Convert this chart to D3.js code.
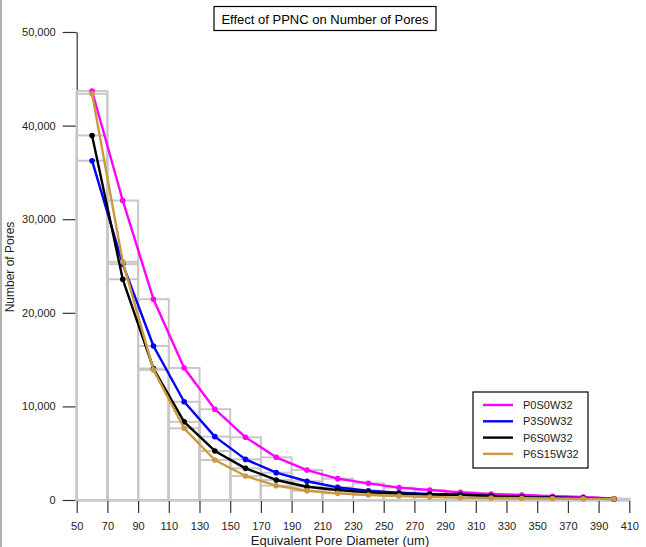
<!DOCTYPE html>
<html>
<head>
<meta charset="utf-8">
<script src="https://cdn.jsdelivr.net/npm/d3@7"></script>
<style>
  body { margin: 0; background: #fff; }
  svg { display: block; font-family: "Liberation Sans", Arial, sans-serif; }
</style>
</head>
<body>
<svg id="chart" width="646" height="547"></svg>
<script>
// data
const diameters = [60, 80, 100, 120, 140, 160, 180, 200, 220, 240, 260, 280, 300, 320, 340, 360, 380, 400];
const seriesNames = ['P0S0W32', 'P3S0W32', 'P6S0W32', 'P6S15W32'];
const p0s0w32 = [43700, 32000, 21450, 14100, 9700, 6700, 4560, 3200, 2280, 1780, 1320, 1070, 820, 640, 530, 400, 320, 130];
const p3s0w32 = [36250, 25200, 16450, 10500, 6770, 4340, 2920, 2000, 1350, 990, 780, 640, 590, 430, 320, 260, 200, 120];
const p6s0w32 = [38950, 23580, 14050, 8350, 5240, 3380, 2140, 1420, 1070, 820, 700, 590, 560, 420, 310, 250, 190, 110];
const p6s15w32 = [43400, 25450, 13900, 7660, 4270, 2560, 1530, 990, 710, 530, 430, 320, 250, 210, 180, 160, 140, 120];
const seriesColors = ['#ff00ff', '#0000ff', '#000000', '#c99a40'];
const xTicks = [50, 70, 90, 110, 130, 150, 170, 190, 210, 230, 250, 270, 290, 310, 330, 350, 370, 390, 410];
const yTicks = [0, 10000, 20000, 30000, 40000, 50000];

const allSeries = [p0s0w32, p3s0w32, p6s0w32, p6s15w32];
const binWidth = 20;

const svg = d3.select('#chart');

// image frame on the left
svg.append('line')
  .attr('x1', 1).attr('x2', 1).attr('y1', 0).attr('y2', 547)
  .attr('stroke', '#999').attr('stroke-width', 1.5);

// scales
const x = d3.scaleLinear().domain([50, 410]).range([76.7, 629.3]);
const y = d3.scaleLinear().domain([0, 50000]).range([500, 32]);

// y axis (major + minor)
const yAxisG = svg.append('g').attr('transform', 'translate(76.7,0)');
yAxisG.call(d3.axisLeft(y).tickValues(d3.range(0, 50001, 2000)).tickSize(7).tickFormat('').tickSizeOuter(0));
yAxisG.call(d3.axisLeft(y).tickValues(yTicks).tickSize(14).tickSizeOuter(0).tickPadding(7).tickFormat(d3.format(',')));
yAxisG.selectAll('path, line').attr('stroke', '#333').attr('stroke-width', 1.2);
yAxisG.selectAll('text').style('font-size', '11px').attr('fill', '#222');

// x axis
const xAxisG = svg.append('g').attr('transform', 'translate(0,500)');
xAxisG.call(d3.axisBottom(x).tickValues(xTicks).tickSize(13).tickSizeOuter(0).tickPadding(9).tickFormat(d3.format('d')));
xAxisG.select('.domain').attr('stroke', '#c8c8c8').attr('stroke-width', 2.5);
xAxisG.selectAll('line').attr('stroke', '#333').attr('stroke-width', 1.2);
xAxisG.selectAll('text').style('font-size', '11px').attr('fill', '#222');

// histogram bars, one set per series
allSeries.forEach((vals) => {
  svg.append('g')
    .selectAll('rect')
    .data(vals)
    .enter()
    .append('rect')
    .attr('x', (d, i) => x(diameters[i] - binWidth / 2))
    .attr('y', (d) => y(d))
    .attr('width', x(binWidth + 50) - x(50))
    .attr('height', (d) => y(0) - y(d))
    .attr('fill', 'none')
    .attr('stroke', '#c8c8c8')
    .attr('stroke-width', 2);
});

// lines and markers
const line = d3.line()
  .x((d, i) => x(diameters[i]))
  .y((d) => y(d));

allSeries.forEach((vals, k) => {
  svg.append('path')
    .datum(vals)
    .attr('d', line)
    .attr('fill', 'none')
    .attr('stroke', seriesColors[k])
    .attr('stroke-width', 2.4)
    .attr('stroke-linejoin', 'round');
  svg.append('g')
    .selectAll('circle')
    .data(vals)
    .enter()
    .append('circle')
    .attr('cx', (d, i) => x(diameters[i]))
    .attr('cy', (d) => y(d))
    .attr('r', 2.8)
    .attr('fill', seriesColors[k]);
});

// title
svg.append('rect')
  .attr('x', 214).attr('y', 6.5).attr('width', 222).attr('height', 24)
  .attr('fill', '#fff').attr('stroke', '#000').attr('stroke-width', 1.2);
svg.append('text')
  .attr('x', 325).attr('y', 23.5)
  .attr('text-anchor', 'middle')
  .style('font-size', '13px')
  .text('Effect of PPNC on Number of Pores');

// axis labels
svg.append('text')
  .attr('x', 340).attr('y', 545)
  .attr('text-anchor', 'middle')
  .style('font-size', '13px')
  .attr('fill', '#222')
  .text('Equivalent Pore Diameter (um)');

svg.append('text')
  .attr('transform', 'translate(14,267) rotate(-90)')
  .attr('text-anchor', 'middle')
  .style('font-size', '12px')
  .attr('fill', '#222')
  .text('Number of Pores');

// legend
const legend = svg.append('g').attr('transform', 'translate(473,392)');
legend.append('rect')
  .attr('width', 115).attr('height', 76)
  .attr('fill', '#fff').attr('stroke', '#000').attr('stroke-width', 1.2);
seriesNames.forEach((name, k) => {
  const ly = 13 + k * 16.3;
  legend.append('line')
    .attr('x1', 10).attr('x2', 40).attr('y1', ly).attr('y2', ly)
    .attr('stroke', seriesColors[k]).attr('stroke-width', 2.4);
  legend.append('text')
    .attr('x', 50).attr('y', ly + 4)
    .style('font-size', '11px')
    .attr('fill', '#222')
    .text(name);
});
</script>
</body>
</html>
